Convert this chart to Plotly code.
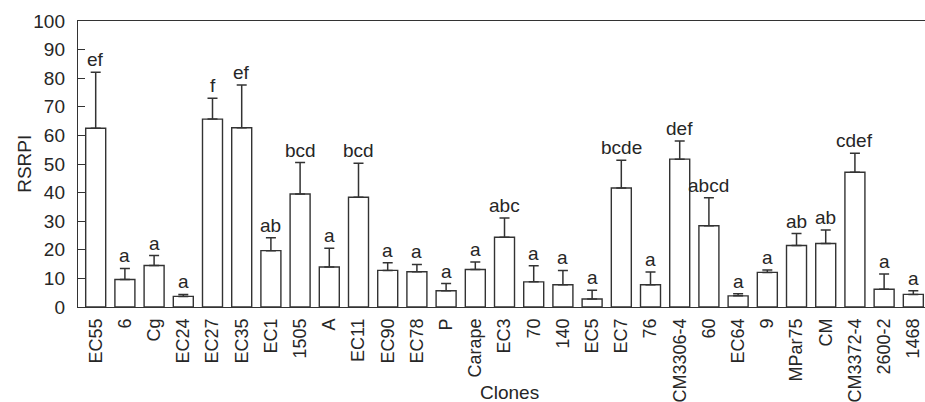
"""Bar chart: RSRPI per clone with one-sided error bars and letter groups."""

import plotly.graph_objects as go

_INK = "#262626"
_LINE = "#333333"
_FONT = "Liberation Sans, Arial, sans-serif"

clones = [
    "EC55", "6", "Cg", "EC24", "EC27", "EC35", "EC1", "1505", "A", "EC11",
    "EC90", "EC78", "P", "Carape", "EC3", "70", "140", "EC5", "EC7", "76",
    "CM3306-4", "60", "EC64", "9", "MPar75", "CM", "CM3372-4", "2600-2", "1468",
]
rsrpi = [
    62.5, 9.6, 14.5, 3.7, 65.7, 62.7, 19.7, 39.5, 14.0, 38.4,
    12.8, 12.3, 5.7, 13.1, 24.4, 8.8, 7.8, 2.8, 41.6, 7.8,
    51.7, 28.4, 3.9, 12.1, 21.5, 22.2, 47.1, 6.2, 4.4,
]
# upper end of each error bar
err_top = [
    82.1, 13.5, 18.0, 4.4, 73.0, 77.6, 24.2, 50.5, 20.5, 50.3,
    15.5, 14.9, 8.2, 15.7, 31.1, 14.4, 12.8, 5.9, 51.3, 12.2,
    58.0, 38.2, 4.6, 12.9, 25.7, 26.9, 53.8, 11.5, 5.7,
]
groups = [
    "ef", "a", "a", "a", "f", "ef", "ab", "bcd", "a", "bcd",
    "a", "a", "a", "a", "abc", "a", "a", "a", "bcde", "a",
    "def", "abcd", "a", "a", "ab", "ab", "cdef", "a", "a",
]

err_plus = [round(t - v, 2) for t, v in zip(err_top, rsrpi)]
xs = list(range(len(clones)))

fig = go.Figure(
    go.Bar(
        x=xs,
        y=rsrpi,
        width=0.685,
        marker=dict(color="white", line=dict(color=_LINE, width=1.4)),
        error_y=dict(
            type="data",
            symmetric=False,
            array=err_plus,
            arrayminus=[0] * len(rsrpi),
            color=_LINE,
            thickness=1.5,
            width=5,
        ),
        hovertemplate="%{customdata}: %{y}<extra></extra>",
        customdata=clones,
    )
)

# significance letters just above each error bar
for x, top, g in zip(xs, err_top, groups):
    fig.add_annotation(
        x=x,
        y=top,
        text=g,
        showarrow=False,
        yanchor="bottom",
        font=dict(family=_FONT, size=19, color=_INK),
    )

# axis titles placed by hand: the long rotated tick labels would push automargin
fig.add_annotation(
    text="Clones", xref="paper", yref="paper", x=0.509, y=-0.30,
    xanchor="center", yanchor="middle", showarrow=False,
    font=dict(family=_FONT, size=19, color=_INK),
)
fig.add_annotation(
    text="RSRPI", xref="paper", yref="paper", x=-0.064, y=0.5,
    xanchor="center", yanchor="middle", textangle=-90, showarrow=False,
    font=dict(family=_FONT, size=19, color=_INK),
)

fig.update_layout(
    width=925,
    height=402,
    paper_bgcolor="white",
    plot_bgcolor="white",
    font=dict(family=_FONT, size=19, color=_INK),
    margin=dict(l=78, r=0, t=21, b=95, autoexpand=False),
    showlegend=False,
    xaxis=dict(
        tickmode="array",
        tickvals=xs,
        ticktext=clones,
        tickangle=-90,
        range=[-0.606, 28.4],
        showline=True,
        mirror=True,
        linecolor=_LINE,
        linewidth=1.4,
        ticks="",
        showgrid=False,
        zeroline=False,
        automargin=False,
        tickfont=dict(size=18),
        ticklabelstandoff=3,
    ),
    yaxis=dict(
        range=[0, 100],
        dtick=10,
        showline=True,
        linecolor=_LINE,
        linewidth=1.4,
        ticks="inside",
        ticklen=7,
        tickcolor=_LINE,
        showgrid=False,
        zeroline=False,
        automargin=False,
        tickfont=dict(size=19),
        ticklabelstandoff=8,
    ),
)

# drop the default page margin so the 925x402 figure fills the window exactly
fig.write_html(
    "out.html",
    config={"displayModeBar": False},
    post_script="document.body.style.margin='0';document.body.style.overflow='hidden';",
)
